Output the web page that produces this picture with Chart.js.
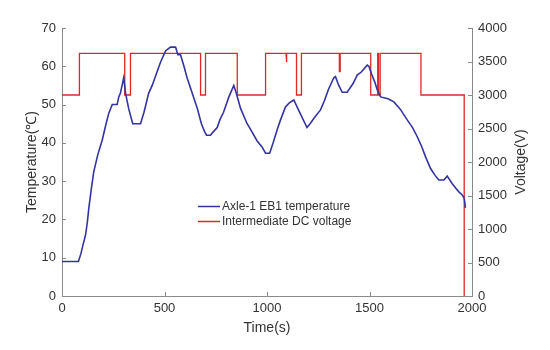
<!DOCTYPE html>
<html>
<head>
<meta charset="utf-8">
<script src="https://cdn.jsdelivr.net/npm/chart.js@4/dist/chart.umd.min.js"></script>
<style>
html,body{margin:0;padding:0;background:#fff;}
#wrap{width:550px;height:350px;position:relative;}
</style>
</head>
<body>
<div id="wrap"><canvas id="c" width="550" height="350"></canvas></div>
<script>
// ---- data ----
const tempTime = [0,80,92,103,115,123,131,143,155,175,196,215,228,245,269,277,285,301,310,325,345,383,400,423,440,460,480,505,529,554,565,578,595,610,635,660,680,695,705,724,740,757,770,788,814,838,850,871,903,917,952,975,993,1013,1030,1050,1066,1090,1110,1131,1150,1195,1210,1230,1261,1280,1300,1326,1334,1350,1367,1391,1420,1440,1460,1489,1497,1510,1525,1538,1554,1590,1619,1650,1684,1710,1733,1755,1773,1798,1820,1838,1863,1879,1903,1920,1936,1952,1962,1968];
const tempValues = [9,9,11,13.5,16,19,23,28,32.5,37,40.7,45,47.7,50,50,52,53,57,53,49,45,45,48,53,55,58,61,64,65,65,63,63,60,57,53,49,45,43,42,42,43,44,46,48,52,55,53,49,45,43.8,40.5,39,37.3,37.3,40,43.5,46,49.4,50.5,51.2,49,44,45,46.5,48.6,51,54,57,57.3,55,53.2,53.2,55.5,57.7,58.5,60.3,60,58,56,53.8,52,51.5,50.7,48.8,46,44,41.6,39,36.4,33.3,31.5,30.3,30.3,31.3,29.4,28.2,27.2,26.4,25.5,23];
const voltTime = [0,85,85,306,306,334,334,676,676,700,700,855,855,993,993,1093,1093,1097,1097,1144,1144,1168,1168,1353,1353,1357,1357,1506,1506,1540,1540,1544,1544,1552,1552,1751,1751,1962,1962];
const voltValues = [3000,3000,3620,3620,3000,3000,3620,3620,3000,3000,3620,3620,3000,3000,3620,3620,3490,3490,3620,3620,3000,3000,3620,3620,3350,3350,3620,3620,3000,3000,3620,3620,3000,3000,3620,3620,3000,3000,0];
const seriesLabels = ['Axle-1 EB1 temperature','Intermediate DC voltage'];
const xTitle = 'Time(s)';
const yTitle = 'Temperature(\u2103)';
const y2Title = 'Voltage(V)';

const BLUE = 'rgb(52,52,160)';
const RED = 'rgb(222,40,40)';
const TXT = '#333';
const AX = '#8a8a8a';
const FONT = "'Liberation Sans', Arial, sans-serif";

const tempData = tempTime.map((t,i)=>({x:t,y:tempValues[i]}));
const voltData = voltTime.map((t,i)=>({x:t,y:voltValues[i]}));

const extras = {
  id:'extras',
  afterDraw(chart){
    const ctx = chart.ctx;
    const ca = chart.chartArea;
    ctx.save();
    ctx.strokeStyle = AX; ctx.lineWidth = 1;
    const xs = chart.scales.x, y = chart.scales.y, y2 = chart.scales.y2;
    ctx.beginPath();
    xs.ticks.forEach(t=>{const p=Math.round(xs.getPixelForValue(t.value))+0.5; ctx.moveTo(p,ca.bottom); ctx.lineTo(p,ca.bottom-4);});
    y.ticks.forEach(t=>{const p=Math.round(y.getPixelForValue(t.value))+0.5; ctx.moveTo(ca.left,p); ctx.lineTo(ca.left+4,p);});
    y2.ticks.forEach(t=>{const p=Math.round(y2.getPixelForValue(t.value))+0.5; ctx.moveTo(ca.right,p); ctx.lineTo(ca.right-4,p);});
    ctx.stroke();
    ctx.fillStyle = TXT;
    ctx.font = '14px ' + FONT;
    ctx.textAlign = 'center'; ctx.textBaseline = 'middle';
    ctx.translate(521, (ca.top+ca.bottom)/2);
    ctx.rotate(-Math.PI/2);
    ctx.fillText(y2Title, 0, 0);
    ctx.setTransform(1,0,0,1,0,0);
    ctx.font = '12px ' + FONT;
    ctx.textAlign = 'left';
    const cols = [BLUE, RED];
    chart.data.datasets.forEach((ds,i)=>{
      const yy = 206.5 + i*15;
      ctx.strokeStyle = cols[i]; ctx.lineWidth = 1.5;
      ctx.beginPath(); ctx.moveTo(198,yy); ctx.lineTo(220,yy); ctx.stroke();
      ctx.fillStyle = TXT;
      ctx.fillText(ds.label, 222, yy);
    });
    ctx.restore();
  }
};

const plain = v => String(v);

new Chart(document.getElementById('c'), {
  type:'line',
  data:{datasets:[
    {label:seriesLabels[0], data:tempData, yAxisID:'y', borderColor:BLUE, borderWidth:1.6, pointRadius:0, tension:0, fill:false},
    {label:seriesLabels[1], data:voltData, yAxisID:'y2', borderColor:RED, borderWidth:1.3, pointRadius:0, tension:0, fill:false}
  ]},
  options:{
    responsive:false, animation:false, devicePixelRatio:1,
    layout:{padding:{top:28,left:0,right:0,bottom:0}},
    plugins:{legend:{display:false}, tooltip:{enabled:false}},
    scales:{
      x:{type:'linear', min:0, max:2000,
        ticks:{stepSize:500, color:TXT, font:{family:FONT,size:13}, padding:5, maxRotation:0, callback:plain},
        grid:{display:false, drawTicks:false},
        border:{display:true, color:AX},
        title:{display:true, text:xTitle, color:TXT, font:{family:FONT,size:14}, padding:{top:0,bottom:13}},
        afterFit(s){s.height=54;}
      },
      y:{position:'left', min:0, max:70,
        ticks:{stepSize:10, color:TXT, font:{family:FONT,size:13}, padding:6, callback:plain},
        grid:{display:false, drawTicks:false},
        border:{display:true, color:AX},
        title:{display:true, text:yTitle, color:TXT, font:{family:FONT,size:14}, padding:{top:24,bottom:0}},
        afterFit(s){s.width=62;}
      },
      y2:{position:'right', min:0, max:4000,
        ticks:{stepSize:500, color:TXT, font:{family:FONT,size:13}, padding:6, callback:plain},
        grid:{display:false, drawTicks:false},
        border:{display:true, color:AX},
        afterFit(s){s.width=78;}
      }
    }
  },
  plugins:[extras]
});
</script>
</body>
</html>
